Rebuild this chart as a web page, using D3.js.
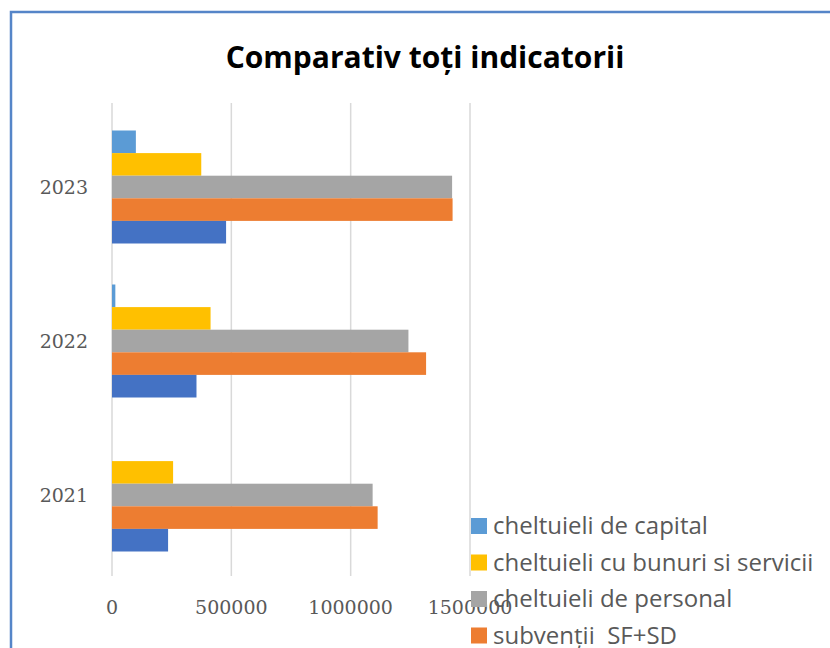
<!DOCTYPE html>
<html>
<head>
<meta charset="utf-8">
<script src="https://cdn.jsdelivr.net/npm/d3@7"></script>
<style>
  body { margin: 0; background: #fff; }
  svg { display: block; }
</style>
</head>
<body>
<script>
// years, top to bottom as drawn
var years = ['2023', '2022', '2021'];

// series, top to bottom inside each group
var seriesNames = [
  'cheltuieli de capital',
  'cheltuieli cu bunuri si servicii',
  'cheltuieli de personal',
  'subvenții  SF+SD',
  'alte cheltuieli'
];
var seriesColors = ['#5b9bd5', '#ffc000', '#a5a5a5', '#ed7d31', '#4472c4'];

// values per series, in the order of years (2023, 2022, 2021)
var capital   = [100000, 14000, 0];
var bunuri    = [374000, 413000, 256000];
var personal  = [1425000, 1242000, 1092000];
var subventii = [1427000, 1316000, 1113000];
var alte      = [478000, 354000, 235000];

var xTicks = [0, 500000, 1000000, 1500000];

var allValues = [capital, bunuri, personal, subventii, alte];

var width = 830, height = 648;

var svg = d3.select('body').append('svg')
  .attr('width', width)
  .attr('height', height);

svg.append('rect')
  .attr('width', width)
  .attr('height', height)
  .attr('fill', '#fff');

// chart border (cut at right and bottom)
svg.append('path')
  .attr('d', 'M11,' + height + ' L11,12 L' + width + ',12')
  .attr('fill', 'none')
  .attr('stroke', '#5585c8')
  .attr('stroke-width', 2.5);

svg.append('text')
  .attr('x', 425)
  .attr('y', 68)
  .attr('text-anchor', 'middle')
  .attr('font-family', 'Open Sans, sans-serif')
  .attr('font-weight', 'bold')
  .attr('font-size', 30)
  .attr('fill', '#000')
  .text('Comparativ toți indicatorii');

var x = d3.scaleLinear().domain([0, 1500000]).range([112, 470]);

var y0 = d3.scaleBand().domain(years).range([110, 572]);
var groupH = 113;
var y1 = d3.scaleBand()
  .domain(seriesNames)
  .range([(y0.bandwidth() - groupH) / 2, (y0.bandwidth() + groupH) / 2]);

// gridlines
svg.append('g')
  .selectAll('line')
  .data(xTicks)
  .enter().append('line')
  .attr('x1', function(d) { return x(d); })
  .attr('x2', function(d) { return x(d); })
  .attr('y1', 103)
  .attr('y2', 576)
  .attr('stroke', '#d9d9d9')
  .attr('stroke-width', 1.5);

// bars
var groups = svg.append('g')
  .selectAll('g')
  .data(years)
  .enter().append('g')
  .attr('transform', function(d) { return 'translate(0,' + y0(d) + ')'; });

groups.selectAll('rect')
  .data(function(year, yi) {
    return seriesNames.map(function(name, si) {
      return { name: name, value: allValues[si][yi], color: seriesColors[si] };
    });
  })
  .enter().append('rect')
  .attr('x', x(0))
  .attr('y', function(d) { return y1(d.name); })
  .attr('width', function(d) { return x(d.value) - x(0); })
  .attr('height', y1.bandwidth())
  .attr('fill', function(d) { return d.color; });

// category labels
svg.append('g')
  .selectAll('text')
  .data(years)
  .enter().append('text')
  .attr('x', 88)
  .attr('y', function(d) { return y0(d) + y0.bandwidth() / 2; })
  .attr('dy', '0.35em')
  .attr('text-anchor', 'end')
  .attr('font-family', 'DejaVu Serif, serif')
  .attr('font-size', 19)
  .attr('fill', '#595959')
  .text(function(d) { return d; });

// value axis labels
svg.append('g')
  .selectAll('text')
  .data(xTicks)
  .enter().append('text')
  .attr('x', function(d) { return x(d); })
  .attr('y', 614)
  .attr('text-anchor', 'middle')
  .attr('font-family', 'DejaVu Serif, serif')
  .attr('font-size', 19)
  .attr('fill', '#595959')
  .text(function(d) { return d; });

// legend (the fifth entry falls below the visible area)
var legend = svg.append('g')
  .selectAll('g')
  .data(seriesNames.slice(0, 4))
  .enter().append('g')
  .attr('transform', function(d, i) { return 'translate(471,' + (526 + i * 36.5) + ')'; });

legend.append('rect')
  .attr('x', 0)
  .attr('y', -8)
  .attr('width', 16)
  .attr('height', 16)
  .attr('fill', function(d, i) { return seriesColors[i]; });

legend.append('text')
  .attr('x', 22)
  .attr('y', 0)
  .attr('dy', '0.35em')
  .attr('font-family', 'Open Sans, sans-serif')
  .attr('font-size', 24)
  .attr('fill', '#595959')
  .style('white-space', 'pre')
  .text(function(d) { return d; });
</script>
</body>
</html>
